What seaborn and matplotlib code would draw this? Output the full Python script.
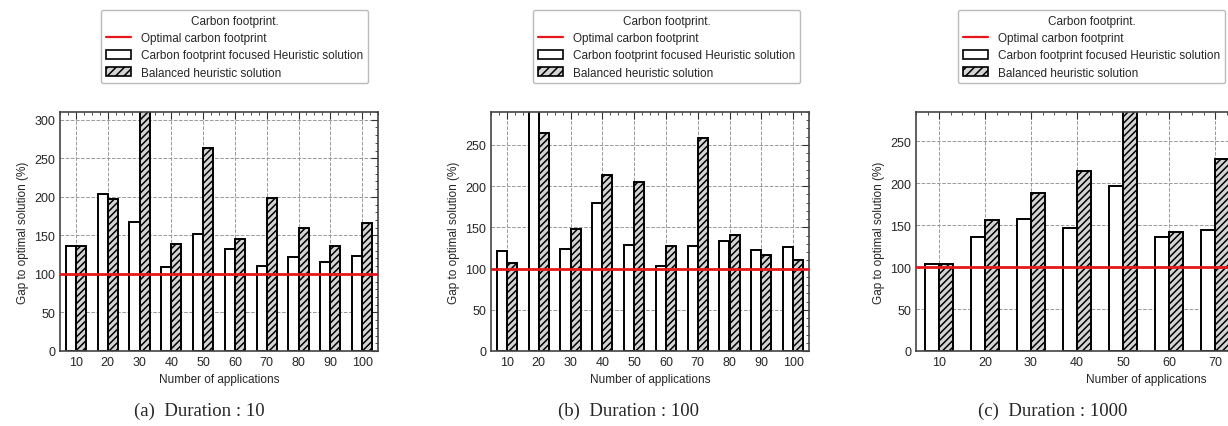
import numpy as np
import pandas as pd
import seaborn as sns
from matplotlib import pyplot as plt
from matplotlib.lines import Line2D
from matplotlib.patches import Patch
from matplotlib.ticker import AutoMinorLocator, MultipleLocator

APPS = ["10", "20", "30", "40", "50", "60", "70", "80", "90", "100"]
METHODS = ["Carbon footprint focused Heuristic solution", "Balanced heuristic solution"]

# Duration : 10
focused_10 = [136, 204, 167, 109, 152, 132, 110, 122, 115, 123]
balanced_10 = [136, 197, 320, 139, 263, 145, 198, 160, 136, 166]
# Duration : 100
focused_100 = [121, 300, 124, 180, 129, 103, 127, 134, 123, 126]
balanced_100 = [107, 264, 148, 213, 205, 128, 259, 141, 116, 111]
# Duration : 1000 (only 10..70 visible in the reference)
focused_1000 = [104, 136, 158, 147, 197, 136, 144]
balanced_1000 = [104, 156, 189, 215, 300, 142, 229]

OPTIMAL = 100
CAPTIONS = ["(a)  Duration : 10", "(b)  Duration : 100", "(c)  Duration : 1000"]
YLIMS = [310, 290, 285]


def make_frame(apps, focused, balanced):
    return pd.DataFrame({
        "apps": list(apps) * 2,
        "gap": list(focused) + list(balanced),
        "method": [METHODS[0]] * len(focused) + [METHODS[1]] * len(balanced),
    })


sns.set_style("white")
plt.rcParams["font.family"] = ["Liberation Sans", "DejaVu Sans"]
plt.rcParams["hatch.linewidth"] = 1.1

fig = plt.figure(figsize=(12.28, 4.27), dpi=100)
W, H = 1228, 427
boxes = [(60, 318), (491, 318), (916, 460)]
legend_x = [101, 533, 958]
caption_x = [199, 628, 1053]

panels = [
    make_frame(APPS, focused_10, balanced_10),
    make_frame(APPS, focused_100, balanced_100),
    make_frame(APPS[:7], focused_1000, balanced_1000),
]

for k, df in enumerate(panels):
    left, width = boxes[k]
    ax = fig.add_axes([left / W, 1 - 352 / H, width / W, (352 - 113) / H])
    sns.barplot(data=df, x="apps", y="gap", hue="method", hue_order=METHODS,
                palette=["white", "#d4d4d4"], saturation=1, width=0.63,
                edgecolor="black", linewidth=1.4, legend=False, ax=ax, zorder=2)
    for bar in ax.containers[1]:
        bar.set_hatch("/////")
    ax.axhline(OPTIMAL, color="#e8161b", lw=2, zorder=5)

    ax.set_xlim(-0.5, 9.5)
    ax.set_ylim(0, YLIMS[k])
    ax.yaxis.set_major_locator(MultipleLocator(50))
    ax.yaxis.set_minor_locator(AutoMinorLocator(5))
    ax.xaxis.set_minor_locator(AutoMinorLocator(4))
    ax.tick_params(which="both", direction="in", top=True, right=True,
                   labelsize=9, color="#333333")
    ax.tick_params(which="major", length=5)
    ax.tick_params(which="minor", length=2.5)
    ax.grid(True, which="major", ls="--", color="#999999", lw=0.7, zorder=0)
    ax.set_axisbelow(True)
    for s in ax.spines.values():
        s.set_color("#444444")
        s.set_linewidth(1.2)
    ax.set_xlabel("Number of applications", fontsize=8.5)
    ax.set_ylabel("Gap to optimal solution (%)", fontsize=8.5)

    handles = [
        Line2D([], [], color="#e8161b", lw=1.6),
        Patch(facecolor="white", edgecolor="black", lw=1.2),
        Patch(facecolor="#d4d4d4", edgecolor="black", lw=1.2, hatch="////"),
    ]
    labels = ["Optimal carbon footprint"] + METHODS
    fig.legend(handles, labels, title="Carbon footprint.", loc="upper left",
               bbox_to_anchor=(legend_x[k] / W, 1 - 11 / H), borderaxespad=0,
               fontsize=8.5, title_fontsize=8.5, handlelength=2.1,
               handleheight=0.75, handletextpad=0.9, labelspacing=0.45,
               borderpad=0.4, edgecolor="#bbbbbb", framealpha=1, fancybox=True)

    fig.text(caption_x[k] / W, 1 - 411 / H, CAPTIONS[k], ha="center", va="center",
             fontsize=13.5, family=["Liberation Serif", "DejaVu Serif"])

plt.savefig("out.png", dpi=100)
